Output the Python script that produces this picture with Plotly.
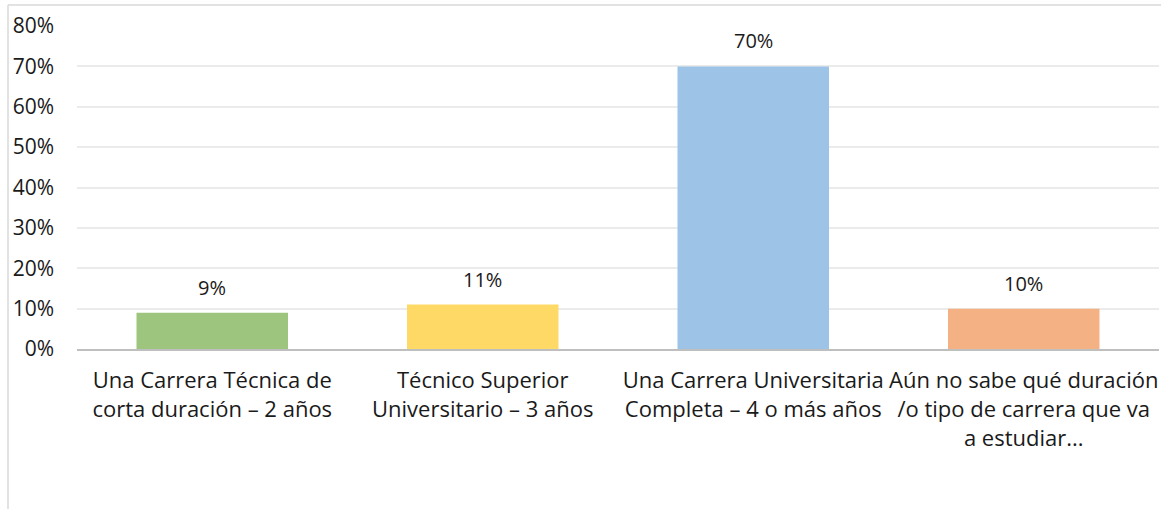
import plotly.graph_objects as go

categories = [
    "Una Carrera Técnica de<br>corta duración – 2 años",
    "Técnico Superior<br>Universitario – 3 años",
    "Una Carrera Universitaria<br>Completa – 4 o más años",
    "Aún no sabe qué duración<br>/o tipo de carrera que va<br>a estudiar...",
]
values = [0.09, 0.11, 0.70, 0.10]
value_labels = ["9%", "11%", "70%", "10%"]
colors = ["#9DC57D", "#FFD966", "#9DC3E6", "#F4B183"]
y_ticks = [0, 0.1, 0.2, 0.3, 0.4, 0.5, 0.6, 0.7, 0.8]

FONT = "Open Sans"

fig = go.Figure()
fig.add_trace(go.Bar(
    x=categories, y=values, marker=dict(color=colors, line=dict(width=0)),
    hoverinfo="skip", showlegend=False,
))

for c, v, t in zip(categories, values, value_labels):
    fig.add_annotation(x=c, y=v, text=t, showarrow=False, yanchor="bottom",
                       yshift=10, font=dict(family=FONT, size=20, color="#1a1a1a"))

W, H = 1163, 509
L, R, T, B = 77, 4, 26, 160
pw, ph = W - L - R, H - T - B
def px(x): return (x - L) / pw
def py(y): return 1 - (y - T) / ph

# outer chart frame (left and top edges)
fig.add_shape(type="line", xref="paper", yref="paper", x0=px(8), x1=px(8),
              y0=py(5), y1=py(520), line=dict(color="#d9d9d9", width=1.5))
fig.add_shape(type="line", xref="paper", yref="paper", x0=px(8), x1=px(1161),
              y0=py(5), y1=py(5), line=dict(color="#d9d9d9", width=1.5))

fig.update_layout(
    width=W, height=H,
    margin=dict(l=L, r=R, t=T, b=B),
    paper_bgcolor="white", plot_bgcolor="white",
    bargap=0.44,
    font=dict(family=FONT, size=20, color="#1a1a1a"),
    xaxis=dict(showgrid=False, showline=True, linecolor="#bfbfbf", linewidth=2,
               tickfont=dict(family=FONT, size=22), ticks="", ticklabelstandoff=11),
    yaxis=dict(range=[0, 0.8], tickvals=y_ticks, tickformat=".0%",
               showgrid=True, gridcolor="#ebebeb", gridwidth=1.5,
               zeroline=False, showline=False, ticks="",
               tickfont=dict(family=FONT, size=21), ticklabelstandoff=22),
)

fig.write_html("out.html", config={"displayModeBar": False},
               post_script="document.body.style.margin='0';document.body.style.overflow='hidden';")
